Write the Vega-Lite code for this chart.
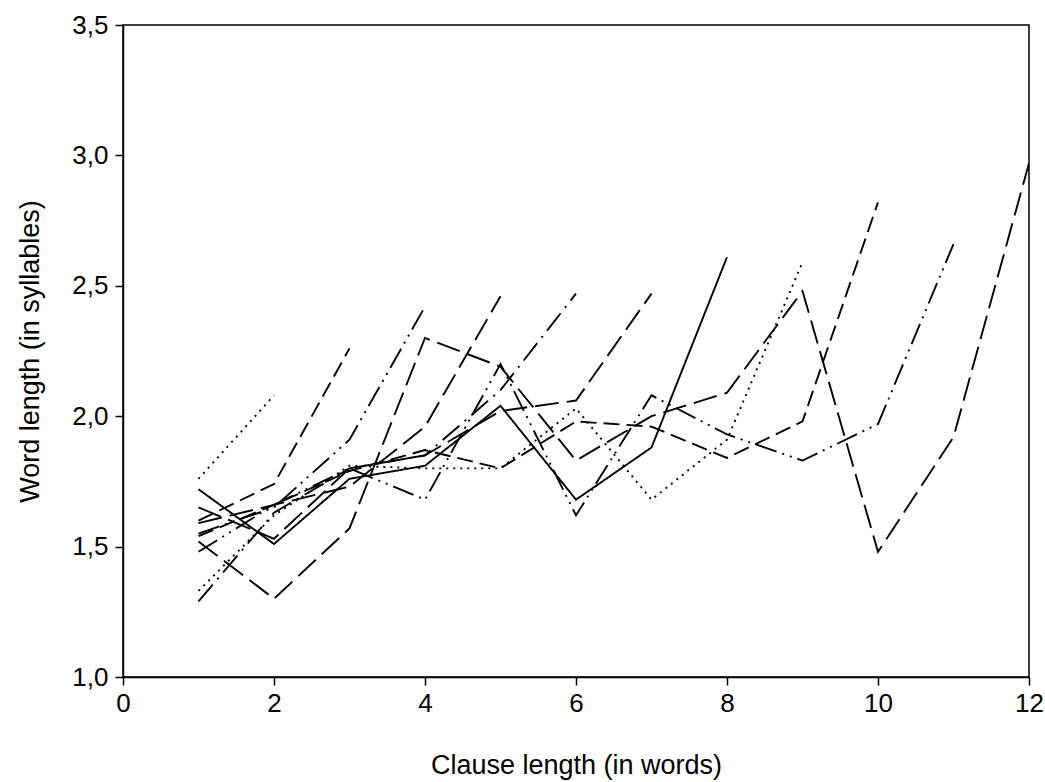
{
  "$schema": "https://vega.github.io/schema/vega-lite/v6.json",
  "width": 906,
  "height": 652,
  "autosize": "none",
  "padding": {"left": 123, "top": 25, "right": 16, "bottom": 105},
  "background": "white",
  "config": {
    "view": {"stroke": "black", "strokeWidth": 1.5}
  },
  "data": {"values": [
    {"s": "S2", "x": 1, "y": 1.76}, {"s": "S2", "x": 2, "y": 2.08},
    {"s": "S3", "x": 1, "y": 1.60}, {"s": "S3", "x": 2, "y": 1.74}, {"s": "S3", "x": 3, "y": 2.26},
    {"s": "S4", "x": 1, "y": 1.55}, {"s": "S4", "x": 2, "y": 1.65}, {"s": "S4", "x": 3, "y": 1.91}, {"s": "S4", "x": 4, "y": 2.42},
    {"s": "S5", "x": 1, "y": 1.59}, {"s": "S5", "x": 2, "y": 1.66}, {"s": "S5", "x": 3, "y": 1.73}, {"s": "S5", "x": 4, "y": 1.96}, {"s": "S5", "x": 5, "y": 2.46},
    {"s": "S6", "x": 1, "y": 1.29}, {"s": "S6", "x": 2, "y": 1.63}, {"s": "S6", "x": 3, "y": 1.80}, {"s": "S6", "x": 4, "y": 1.85}, {"s": "S6", "x": 5, "y": 2.10}, {"s": "S6", "x": 6, "y": 2.47},
    {"s": "S7", "x": 1, "y": 1.65}, {"s": "S7", "x": 2, "y": 1.53}, {"s": "S7", "x": 3, "y": 1.80}, {"s": "S7", "x": 4, "y": 1.85}, {"s": "S7", "x": 5, "y": 2.02}, {"s": "S7", "x": 6, "y": 2.06}, {"s": "S7", "x": 7, "y": 2.47},
    {"s": "S8", "x": 1, "y": 1.72}, {"s": "S8", "x": 2, "y": 1.51}, {"s": "S8", "x": 3, "y": 1.76}, {"s": "S8", "x": 4, "y": 1.81}, {"s": "S8", "x": 5, "y": 2.04}, {"s": "S8", "x": 6, "y": 1.68}, {"s": "S8", "x": 7, "y": 1.88}, {"s": "S8", "x": 8, "y": 2.61},
    {"s": "S9", "x": 1, "y": 1.33}, {"s": "S9", "x": 2, "y": 1.62}, {"s": "S9", "x": 3, "y": 1.81}, {"s": "S9", "x": 4, "y": 1.80}, {"s": "S9", "x": 5, "y": 1.80}, {"s": "S9", "x": 6, "y": 2.03}, {"s": "S9", "x": 7, "y": 1.68}, {"s": "S9", "x": 8, "y": 1.91}, {"s": "S9", "x": 9, "y": 2.59},
    {"s": "S10", "x": 1, "y": 1.54}, {"s": "S10", "x": 2, "y": 1.66}, {"s": "S10", "x": 3, "y": 1.79}, {"s": "S10", "x": 4, "y": 1.87}, {"s": "S10", "x": 5, "y": 1.80}, {"s": "S10", "x": 6, "y": 1.98}, {"s": "S10", "x": 7, "y": 1.96}, {"s": "S10", "x": 8, "y": 1.84}, {"s": "S10", "x": 9, "y": 1.98}, {"s": "S10", "x": 10, "y": 2.82},
    {"s": "S11", "x": 1, "y": 1.48}, {"s": "S11", "x": 2, "y": 1.66}, {"s": "S11", "x": 3, "y": 1.80}, {"s": "S11", "x": 4, "y": 1.68}, {"s": "S11", "x": 5, "y": 2.20}, {"s": "S11", "x": 6, "y": 1.62}, {"s": "S11", "x": 7, "y": 2.08}, {"s": "S11", "x": 8, "y": 1.93}, {"s": "S11", "x": 9, "y": 1.83}, {"s": "S11", "x": 10, "y": 1.97}, {"s": "S11", "x": 11, "y": 2.66},
    {"s": "S12", "x": 1, "y": 1.52}, {"s": "S12", "x": 2, "y": 1.30}, {"s": "S12", "x": 3, "y": 1.57}, {"s": "S12", "x": 4, "y": 2.30}, {"s": "S12", "x": 5, "y": 2.19}, {"s": "S12", "x": 6, "y": 1.83}, {"s": "S12", "x": 7, "y": 2.00}, {"s": "S12", "x": 8, "y": 2.09}, {"s": "S12", "x": 9, "y": 2.48}, {"s": "S12", "x": 10, "y": 1.48}, {"s": "S12", "x": 11, "y": 1.92}, {"s": "S12", "x": 12, "y": 2.97}
  ]},
  "mark": {"type": "line", "color": "black", "strokeWidth": 1.9, "clip": true},
  "encoding": {
    "x": {"field": "x", "type": "quantitative", "scale": {"domain": [0, 12], "nice": false, "zero": false}, "axis": {"values": [0, 2, 4, 6, 8, 10, 12], "title": "Clause length (in words)", "grid": false, "labelFlush": false, "labelOverlap": false, "labelFont": "Liberation Sans", "titleFont": "Liberation Sans", "labelFontSize": 26, "titleFontSize": 27, "titleFontWeight": "normal", "labelColor": "black", "titleColor": "black", "domainColor": "black", "tickColor": "black", "tickSize": 8, "domainWidth": 1.5, "tickWidth": 1.5, "labelPadding": 5, "titlePadding": 36}},
    "y": {"field": "y", "type": "quantitative", "scale": {"domain": [1, 3.5], "nice": false, "zero": false}, "axis": {"values": [1, 1.5, 2, 2.5, 3, 3.5], "labelExpr": "replace(format(datum.value, '.1f'), '.', ',')", "title": "Word length (in syllables)", "grid": false, "labelFlush": false, "labelOverlap": false, "labelFont": "Liberation Sans", "titleFont": "Liberation Sans", "labelFontSize": 26, "titleFontSize": 27, "titleFontWeight": "normal", "labelColor": "black", "titleColor": "black", "domainColor": "black", "tickColor": "black", "tickSize": 8, "domainWidth": 1.5, "tickWidth": 1.5, "labelPadding": 7, "titleX": -93, "titleBaseline": "middle"}},
    "detail": {"field": "s", "type": "nominal"},
    "order": {"field": "x", "type": "quantitative"},
    "strokeDash": {"field": "s", "type": "nominal", "legend": null, "scale": {
      "domain": ["S2", "S3", "S4", "S5", "S6", "S7", "S8", "S9", "S10", "S11", "S12"],
      "range": [[2, 5], [16, 7], [22, 6, 2, 6, 2, 6], [24, 8], [22, 7, 2, 7], [24, 8], [1, 0], [2, 5], [16, 7], [22, 6, 2, 6, 2, 6], [24, 8]]
    }}
  }
}
